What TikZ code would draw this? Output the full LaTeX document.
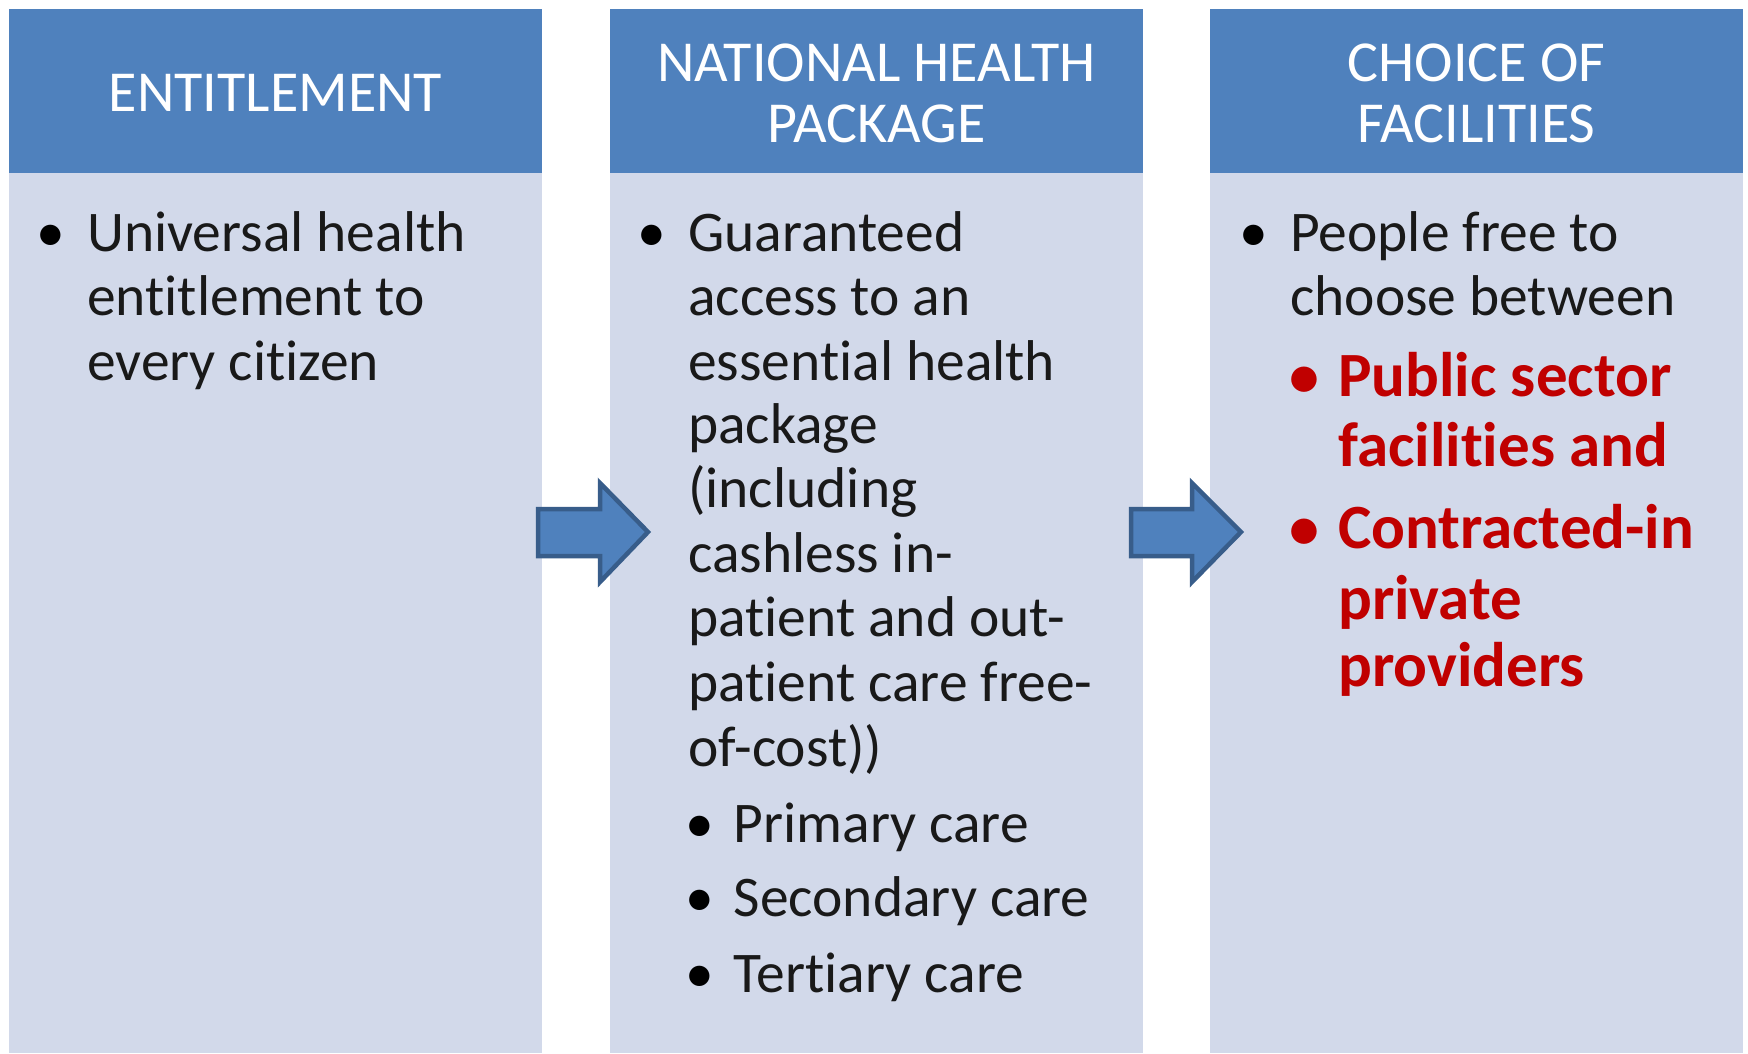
\documentclass[tikz,border=0pt]{standalone}
\usepackage{fontspec}
\setmainfont[Ligatures={NoCommon}]{Carlito}
\definecolor{hdrblue}{HTML}{4F81BD}
\definecolor{bodyblue}{HTML}{D2D9EA}
\definecolor{arrowedge}{HTML}{385D8A}
\definecolor{redtxt}{HTML}{C00000}
\tikzset{
  hdrbox/.style={fill=hdrblue, draw=none, minimum width=533pt, minimum height=164pt, anchor=north west, inner sep=0pt},
  bodybox/.style={fill=bodyblue, draw=none, minimum width=533pt, minimum height=880pt, anchor=north west, inner sep=0pt},
  htext/.style={text=white, font=\fontsize{58}{62}\selectfont, anchor=base, inner sep=0pt},
  btext/.style={font=\fontsize{57.5}{64}\selectfont, anchor=base west, inner sep=0pt, text=black!90},
  rtext/.style={font=\fontsize{63}{69}\selectfont\bfseries, anchor=base west, inner sep=0pt, text=redtxt},
  bul/.style={font=\fontsize{57.5}{64}\selectfont, anchor=base, inner sep=0pt, text=black},
  rbul/.style={font=\fontsize{60}{69}\selectfont\bfseries, anchor=base, inner sep=0pt, text=redtxt},
  blockarrow/.style={fill=hdrblue, draw=arrowedge, line width=4.5pt, line join=miter}
}
\begin{document}
\begin{tikzpicture}[x=1pt,y=-1pt]
\useasboundingbox (0,0) rectangle (1748,1053);
\fill[white] (0,0) rectangle (1748,1053);
% columns
\node[bodybox] (b1) at (9,173) {};
\node[hdrbox] (h1) at (9,9) {};
\node[bodybox] (b2) at (610,173) {};
\node[hdrbox] (h2) at (610,9) {};
\node[bodybox] (b3) at (1210,173) {};
\node[hdrbox] (h3) at (1210,9) {};
% headers
\node[htext] (t1) at (275.5,111.5) {ENTITLEMENT};
\node[htext] (t2a) at (876.5,81.5) {NATIONAL HEALTH};
\node[htext] (t2b) at (876.5,142.5) {PACKAGE};
\node[htext] (t3a) at (1476.5,81.5) {CHOICE OF};
\node[htext] (t3b) at (1476.5,142.5) {FACILITIES};
% column 1
\node[bul] (u1) at (51,251) {•};
\node[btext] (c1l1) at (87,251) {Universal health};
\node[btext] (c1l2) at (87,315.5) {entitlement to};
\node[btext] (c1l3) at (87,380) {every citizen};
% column 2
\node[bul] (u2) at (652,251) {•};
\node[btext] (c2l1) at (688,251) {Guaranteed};
\node[btext] (c2l2) at (688,315.5) {access to an};
\node[btext] (c2l3) at (688,380) {essential health};
\node[btext] (c2l4) at (688,443) {package};
\node[btext] (c2l5) at (688,507) {(including};
\node[btext] (c2l6) at (688,572) {cashless in-};
\node[btext] (c2l7) at (688,636.5) {patient and out-};
\node[btext] (c2l8) at (688,701) {patient care free-};
\node[btext] (c2l9) at (688,766) {of-cost))};
\node[bul] (s1b) at (700,842) {•};
\node[btext] (s1) at (733.5,842) {Primary care};
\node[bul] (s2b) at (700,916) {•};
\node[btext] (s2) at (733.5,916) {Secondary care};
\node[bul] (s3b) at (700,992) {•};
\node[btext] (s3) at (733.5,992) {Tertiary care};
% column 3
\node[bul] (u3) at (1254,251) {•};
\node[btext] (c3l1) at (1290,251) {People free to};
\node[btext] (c3l2) at (1290,315.5) {choose between};
\node[rbul] (r1b) at (1304,396) {•};
\node[rtext] (r1a) at (1338,396) {Public sector};
\node[rtext] (r1c) at (1338,466) {facilities and};
\node[rbul] (r2b) at (1304,548.5) {•};
\node[rtext] (r2a) at (1338,548.5) {Contracted-in};
\node[rtext] (r2c) at (1338,619) {private};
\node[rtext] (r2d) at (1338,686) {providers};
% block arrows
\draw[blockarrow] (538,509) -- (600,509) -- (600,483) -- (648,532) -- (600,582) -- (600,556) -- (538,556) -- cycle;
\draw[blockarrow] (1131,509) -- (1192,509) -- (1192,483) -- (1241,532) -- (1192,582) -- (1192,556) -- (1131,556) -- cycle;
\end{tikzpicture}
\end{document}
